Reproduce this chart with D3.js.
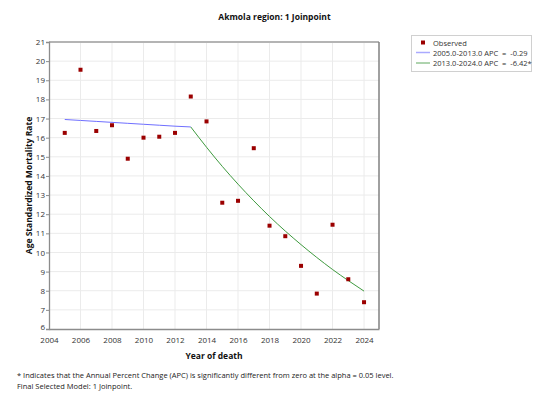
<!DOCTYPE html>
<html>
<head>
<meta charset="utf-8">
<script src="https://cdn.jsdelivr.net/npm/d3@7"></script>
<style>
body{margin:0;background:#fff;}
text{font-family:"Open Sans","Noto Sans",sans-serif;}
</style>
</head>
<body>
<div id="chart"></div>
<script>
/*Joinpoint plot*/

var years = [2005,2006,2007,2008,2009,2010,2011,2012,2013,2014,2015,2016,2017,2018,2019,2020,2021,2022,2023,2024];
var observed = [16.25,19.55,16.35,16.65,14.9,16.0,16.05,16.25,18.15,16.85,12.6,12.7,15.45,11.4,10.85,9.3,7.85,11.45,8.6,7.4];
var seg1Years = [2005,2006,2007,2008,2009,2010,2011,2012,2013];
var seg1Fit = [16.95,16.90,16.85,16.80,16.75,16.70,16.65,16.60,16.56];
var seg2Years = [2013,2014,2015,2016,2017,2018,2019,2020,2021,2022,2023,2024];
var seg2Fit = [16.56,15.50,14.50,13.57,12.70,11.88,11.12,10.41,9.74,9.11,8.53,7.98];
var xTicks = [2004,2006,2008,2010,2012,2014,2016,2018,2020,2022,2024];
var yTicks = [6,7,8,9,10,11,12,13,14,15,16,17,18,19,20,21];
var legendLabels = ["Observed","2005.0-2013.0 APC  =  -0.29","2013.0-2024.0 APC  =  -6.42*"];

var W = 549, H = 412;
var margin = {top:42,right:170,bottom:83,left:49},
w = 379 - margin.left,
h = 329 - margin.top;

var svg = d3.select("#chart").append("svg")
  .attr("width",W).attr("height",H);

var g = svg.append("g")
  .attr("transform",`translate(${margin.left},${margin.top})`);

var xScale = d3.scaleLinear().domain([2004,2024.95]).range([0,w]);
var yScale = d3.scaleLinear().domain([6,21]).range([h,0]);

// grid
g.append("g").selectAll("line").data(xTicks.slice(1)).enter()
  .append("line")
  .attr("x1",d=>xScale(d)).attr("x2",d=>xScale(d))
  .attr("y1",0).attr("y2",h)
  .attr("stroke","#ebebeb");
g.append("g").selectAll("line").data(yTicks.slice(1)).enter()
  .append("line")
  .attr("x1",0).attr("x2",w)
  .attr("y1",d=>yScale(d)).attr("y2",d=>yScale(d))
  .attr("stroke","#ebebeb");

// frame
g.append("line").attr("x1",0).attr("x2",w).attr("y1",0).attr("y2",0)
  .attr("stroke","#b4b4b4").attr("stroke-width",2);
g.append("line").attr("x1",w).attr("x2",w).attr("y1",0).attr("y2",h)
  .attr("stroke","#808080").attr("stroke-width",1.5);

// axes
var xAxis = g.append("g")
  .attr("transform","translate(0,"+h+")")
  .call(d3.axisBottom(xScale).tickValues(xTicks).tickSize(0).tickPadding(8).tickFormat(d3.format("d")));
xAxis.select(".domain").attr("stroke","#8c8c8c").attr("stroke-width",1.3);
xAxis.selectAll("text").attr("font-size","8px").attr("fill","#333");

var yAxis = g.append("g")
  .call(d3.axisLeft(yScale).tickValues(yTicks).tickSize(3).tickPadding(1));
yAxis.select(".domain").attr("stroke","#8c8c8c").attr("stroke-width",1.3);
yAxis.selectAll(".tick line").attr("stroke","#8c8c8c");
yAxis.selectAll("text").attr("font-size","8px").attr("fill","#333");
yAxis.selectAll(".tick").filter(d=>d===6).select("text").attr("dy","0.1em");

// fitted lines
var line = d3.line().x(d=>xScale(d[0])).y(d=>yScale(d[1]));
g.append("path")
  .datum(seg1Years.map((y,i)=>[y,seg1Fit[i]]))
  .attr("d",line).attr("fill","none").attr("stroke","#6f6fff").attr("stroke-width",1);
g.append("path")
  .datum(seg2Years.map((y,i)=>[y,seg2Fit[i]]))
  .attr("d",d3.line().curve(d3.curveMonotoneX).x(d=>xScale(d[0])).y(d=>yScale(d[1])))
  .attr("fill","none").attr("stroke","#3f9a3f").attr("stroke-width",1);

// observed points
g.selectAll("rect.pt").data(observed).enter()
  .append("rect").attr("class","pt")
  .attr("x",(d,i)=>xScale(years[i])-2)
  .attr("y",d=>yScale(d)-2)
  .attr("width",4).attr("height",4)
  .attr("fill","#9b0000");

// titles
svg.append("text").text("Akmola region: 1 Joinpoint")
  .attr("x",W/2).attr("y",20).attr("text-anchor","middle")
  .attr("font-size","8.5px").attr("font-weight","bold").attr("fill","#111");
svg.append("text").text("Year of death")
  .attr("x",margin.left+w/2).attr("y",359).attr("text-anchor","middle")
  .attr("font-size","8.5px").attr("font-weight","bold").attr("fill","#111");
svg.append("text").text("Age Standardized Mortality Rate")
  .attr("transform",`translate(32,${margin.top+h/2}) rotate(-90)`)
  .attr("text-anchor","middle")
  .attr("font-size","8.5px").attr("font-weight","bold").attr("fill","#111");

// footnote
svg.append("text").text("* Indicates that the Annual Percent Change (APC) is significantly different from zero at the alpha = 0.05 level.")
  .attr("x",17).attr("y",378).attr("font-size","7.5px").attr("fill","#222");
svg.append("text").text("Final Selected Model: 1 Joinpoint.")
  .attr("x",17).attr("y",389).attr("font-size","7.5px").attr("fill","#222");

// legend
var lg = svg.append("g");
lg.append("rect").attr("x",411.5).attr("y",35.5).attr("width",120).attr("height",36)
  .attr("fill","#fff").attr("stroke","#d0d0d0");
lg.append("rect").attr("x",421).attr("y",40.5).attr("width",4).attr("height",4).attr("fill","#9b0000");
lg.append("line").attr("x1",416).attr("x2",430).attr("y1",52.5).attr("y2",52.5)
  .attr("stroke","#aaaaff").attr("stroke-width",1.5);
lg.append("line").attr("x1",416).attr("x2",430).attr("y1",63).attr("y2",63)
  .attr("stroke","#5ea85e").attr("stroke-width",1);
lg.selectAll("text.lt").data(legendLabels).enter()
  .append("text").attr("class","lt")
  .attr("x",433).attr("y",(d,i)=>45.5+i*10.3)
  .attr("font-size","7.5px").attr("fill","#333")
  .style("white-space","pre")
  .text(d=>d);
</script>
</body>
</html>
